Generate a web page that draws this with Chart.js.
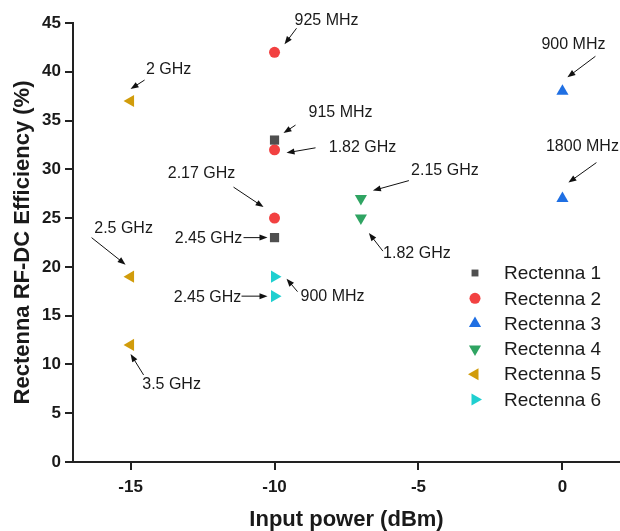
<!DOCTYPE html>
<html>
<head>
<meta charset="utf-8">
<script src="https://cdn.jsdelivr.net/npm/chart.js@4.4.1/dist/chart.umd.min.js"></script>
<style>
  html, body { margin: 0; padding: 0; background: #ffffff; }
  #wrap { width: 620px; height: 531px; }
</style>
</head>
<body>
<div id="wrap"><canvas id="rectennaChart"></canvas></div>
<script>
// ---- data ----
const seriesNames = ['Rectenna 1', 'Rectenna 2', 'Rectenna 3', 'Rectenna 4', 'Rectenna 5', 'Rectenna 6'];

const r1Power = [-10, -10];       const r1Eff = [33, 23];
const r2Power = [-10, -10, -10];  const r2Eff = [42, 32, 25];
const r3Power = [0, 0];           const r3Eff = [38, 27];
const r4Power = [-7, -7];         const r4Eff = [27, 25];
const r5Power = [-15, -15, -15];  const r5Eff = [37, 19, 12];
const r6Power = [-10, -10];       const r6Eff = [19, 17];

const xTicks = [-15, -10, -5, 0];
const yTicks = [0, 5, 10, 15, 20, 25, 30, 35, 40, 45];

// frequency labels: which point they point at (series, index)
const freqLabels = ['925 MHz', '915 MHz', '1.82 GHz', '2.17 GHz', '2.45 GHz', '900 MHz', '1800 MHz',
                    '2.15 GHz', '1.82 GHz', '2 GHz', '2.5 GHz', '3.5 GHz', '900 MHz', '2.45 GHz'];
const freqSeries = [1, 0, 1, 1, 0, 2, 2, 3, 3, 4, 4, 4, 5, 5];
const freqIndex  = [0, 0, 1, 2, 1, 0, 1, 0, 1, 0, 1, 2, 0, 1];

// ---- styles (pixel offsets of text / arrow relative to the point) ----
const labelStyle = [
  { text: [52, -32],  from: [22, -24],  to: [10, -8] },   // 925 MHz
  { text: [66, -27],  from: [21, -15],  to: [9, -7] },    // 915 MHz
  { text: [88, -2],   from: [41, -2],   to: [12, 3] },    // 1.82 GHz (R2)
  { text: [-73, -45], from: [-41, -31], to: [-11, -11] }, // 2.17 GHz
  { text: [-66, 1],   from: [-31, 0],   to: [-7, 0] },    // 2.45 GHz (R1)
  { text: [11, -47],  from: [33, -35],  to: [5, -14] },   // 900 MHz (R3)
  { text: [20, -52],  from: [34, -36],  to: [6, -16] },   // 1800 MHz
  { text: [84, -28],  from: [48, -18],  to: [12, -8] },   // 2.15 GHz
  { text: [56, 35],   from: [22, 33],   to: [8, 15] },    // 1.82 GHz (R4)
  { text: [38, -31],  from: [14, -21],  to: [0, -12] },   // 2 GHz
  { text: [-7, -48],  from: [-39, -39], to: [-5, -12] },  // 2.5 GHz
  { text: [41, 40],   from: [13, 30],   to: [0, 9] },     // 3.5 GHz
  { text: [58, 20],   from: [23, 15],   to: [12, 2] },    // 900 MHz (R6)
  { text: [-67, 1],   from: [-33, 0],   to: [-7, 0] }     // 2.45 GHz (R6)
];

const colors = ['#4f4f4f', '#f24141', '#1f6fe3', '#2fa462', '#d19c0b', '#1fcfd0'];
const shapes = ['rect', 'circle', 'triangle', 'triangle', 'triangle', 'triangle'];
const rotations = [0, 0, 0, 180, 270, 90];
const radii = [6.5, 5.5, 7, 7, 7, 7];

function toPoints(xs, ys) {
  return xs.map((x, i) => ({ x: x, y: ys[i] }));
}

const allPoints = [
  toPoints(r1Power, r1Eff), toPoints(r2Power, r2Eff), toPoints(r3Power, r3Eff),
  toPoints(r4Power, r4Eff), toPoints(r5Power, r5Eff), toPoints(r6Power, r6Eff)
];

const datasets = seriesNames.map((name, i) => ({
  label: name,
  data: allPoints[i],
  pointStyle: shapes[i],
  rotation: rotations[i],
  pointRadius: radii[i],
  pointHoverRadius: radii[i],
  backgroundColor: colors[i],
  borderColor: colors[i],
  borderWidth: 0,
  showLine: false
}));

// draw an arrow with a filled head
function drawArrow(ctx, x1, y1, x2, y2) {
  const ang = Math.atan2(y2 - y1, x2 - x1);
  const head = 8, half = 3;
  ctx.beginPath();
  ctx.moveTo(x1, y1);
  ctx.lineTo(x2 - Math.cos(ang) * head * 0.8, y2 - Math.sin(ang) * head * 0.8);
  ctx.strokeStyle = '#111';
  ctx.lineWidth = 1;
  ctx.stroke();
  ctx.beginPath();
  ctx.moveTo(x2, y2);
  ctx.lineTo(x2 - Math.cos(ang) * head - Math.sin(ang) * half,
             y2 - Math.sin(ang) * head + Math.cos(ang) * half);
  ctx.lineTo(x2 - Math.cos(ang) * head + Math.sin(ang) * half,
             y2 - Math.sin(ang) * head - Math.cos(ang) * half);
  ctx.closePath();
  ctx.fillStyle = '#111';
  ctx.fill();
}

function drawMarker(ctx, i, x, y) {
  const opts = {
    pointStyle: shapes[i], rotation: rotations[i], radius: radii[i], borderWidth: 0
  };
  ctx.fillStyle = colors[i];
  ctx.strokeStyle = colors[i];
  if (Chart.helpers && Chart.helpers.drawPoint) {
    Chart.helpers.drawPoint(ctx, opts, x, y);
  } else {
    ctx.beginPath();
    ctx.arc(x, y, radii[i], 0, Math.PI * 2);
    ctx.fill();
  }
}

// annotations + legend plugin
const annotationPlugin = {
  id: 'freqAnnotations',
  afterDatasetsDraw(chart) {
    const ctx = chart.ctx;
    ctx.save();
    ctx.font = '16px "Liberation Sans", Arial, sans-serif';
    ctx.textAlign = 'center';
    ctx.textBaseline = 'middle';
    freqLabels.forEach((label, k) => {
      const el = chart.getDatasetMeta(freqSeries[k]).data[freqIndex[k]];
      const s = labelStyle[k];
      ctx.fillStyle = '#1a1a1a';
      ctx.fillText(label, el.x + s.text[0], el.y + s.text[1]);
      drawArrow(ctx, el.x + s.from[0], el.y + s.from[1], el.x + s.to[0], el.y + s.to[1]);
    });

    // legend inside the plot area
    ctx.font = '19px "Liberation Sans", Arial, sans-serif';
    ctx.textAlign = 'left';
    const lx = 475, ly = 273, step = 25.3;
    seriesNames.forEach((name, i) => {
      const scale = i === 0 ? 0.75 : 1;
      ctx.save();
      ctx.translate(lx, ly + i * step);
      ctx.scale(scale, scale);
      drawMarker(ctx, i, 0, 0);
      ctx.restore();
      ctx.fillStyle = '#1a1a1a';
      ctx.fillText(name, lx + 29, ly + i * step + 1);
    });
    ctx.restore();
  }
};

const ctx = document.getElementById('rectennaChart').getContext('2d');

const rectennaChart = new Chart(ctx, {
  type: 'scatter',
  data: { datasets: datasets },
  plugins: [annotationPlugin],
  options: {
    responsive: true,
    maintainAspectRatio: false,
    animation: false,
    layout: { autoPadding: false, padding: { top: 23, right: 0, left: 0, bottom: 0 } },
    plugins: {
      legend: { display: false },
      tooltip: { enabled: false }
    },
    scales: {
      x: {
        type: 'linear',
        min: -17,
        max: 2,
        afterFit(scale) {
          scale.height = 69;
          scale.paddingLeft = 0;
          scale.paddingRight = 0;
        },
        afterBuildTicks(scale) { scale.ticks = xTicks.map(v => ({ value: v })); },
        grid: { drawOnChartArea: false, drawTicks: true, tickLength: 8, color: '#222', lineWidth: 2 },
        border: { display: true, color: '#222', width: 2 },
        ticks: {
          color: '#1a1a1a',
          padding: 7,
          font: { family: '"Liberation Sans", Arial, sans-serif', size: 17, weight: 'bold' }
        },
        title: {
          display: true,
          text: 'Input power (dBm)',
          color: '#1a1a1a',
          padding: 0,
          font: { family: '"Liberation Sans", Arial, sans-serif', size: 22, weight: 'bold', lineHeight: 1 }
        }
      },
      y: {
        type: 'linear',
        min: 0,
        max: 45,
        afterFit(scale) {
          scale.width = 73;
          scale.paddingTop = 0;
          scale.paddingBottom = 0;
        },
        afterBuildTicks(scale) { scale.ticks = yTicks.map(v => ({ value: v })); },
        grid: { drawOnChartArea: false, drawTicks: true, tickLength: 8, color: '#222', lineWidth: 2 },
        border: { display: true, color: '#222', width: 2 },
        ticks: {
          color: '#1a1a1a',
          padding: 4,
          font: { family: '"Liberation Sans", Arial, sans-serif', size: 17, weight: 'bold' }
        },
        title: {
          display: true,
          text: 'Rectenna RF-DC Efficiency (%)',
          color: '#1a1a1a',
          padding: { top: 12, bottom: 0 },
          font: { family: '"Liberation Sans", Arial, sans-serif', size: 22, weight: 'bold', lineHeight: 1 }
        }
      }
    }
  }
});
</script>
</body>
</html>
